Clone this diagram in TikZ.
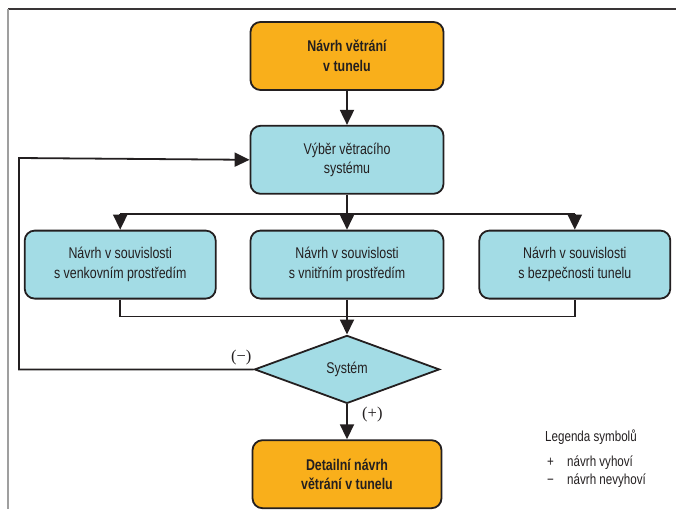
\documentclass[tikz,border=0pt]{standalone}
\usepackage{fontspec}
\setmainfont[FakeStretch=0.8]{Liberation Sans}
\newfontfamily\parenfont{Liberation Serif}
\usepackage{xcolor}
\usetikzlibrary{positioning, arrows.meta, shapes.geometric}

\definecolor{vorange}{HTML}{F9AF1B}
\definecolor{vcyan}{HTML}{A3DCE5}
\definecolor{vline}{HTML}{231F20}

\begin{document}
\begin{tikzpicture}[
    x=1pt, y=-1pt,
    box/.style={draw=vline, line width=1.8pt, rounded corners=10pt, align=center,
                minimum width=193pt, minimum height=68pt, inner sep=2pt,
                font=\fontsize{15.5}{19.5}\selectfont, text=vline},
    mainbox/.style={box, fill=vorange, font=\bfseries\fontsize{15.5}{19.5}\selectfont},
    stepbox/.style={box, fill=vcyan},
    decide/.style={diamond, draw=vline, line width=1.8pt, fill=vcyan, inner sep=0pt,
                   minimum width=185pt, minimum height=68pt,
                   font=\fontsize{15.5}{18}\selectfont, text=vline},
    arr/.style={-{Triangle[length=15pt,width=14pt]}, line width=1.8pt, draw=vline},
    ln/.style={line width=1.8pt, draw=vline},
    lbl/.style={inner sep=1pt, font=\parenfont\fontsize{16.5}{18}\selectfont, text=vline},
    leg/.style={inner sep=0pt, anchor=base west, font=\fontsize{14.5}{17}\selectfont, text=vline}
  ]
  \useasboundingbox (0,0) rectangle (676,509);

  % frame
  \draw[line width=1.8pt, draw=vline!90] (8,9) -- (676,9);
  \draw[line width=1.5pt, draw=gray!75] (8,9) -- (8,509);

  \node[mainbox] (navrh) at (347,56) {Návrh větrání\\v tunelu};
  \node[stepbox, below=34pt of navrh] (vyber) {Výběr větracího\\systému};
  \node[stepbox, below=35pt of vyber] (vnit) {Návrh v souvislosti\\s vnitřním prostředím};
  \node[stepbox, left=33pt of vnit, minimum width=191pt] (venk) {Návrh v souvislosti\\s venkovním prostředím};
  \node[stepbox, right=34pt of vnit, minimum width=191pt] (bezp) {Návrh v souvislosti\\s bezpečnosti tunelu};
  \node[decide, below=35pt of vnit] (sys) {Systém};
  \node[mainbox, below=35pt of sys, minimum width=189pt] (detail) {Detailní návrh\\větrání v tunelu};

  \coordinate[below=19pt of vyber.south] (split);
  \coordinate[below=17pt of vnit.south] (join);
  \coordinate (loop) at (19,158);

  \draw[arr] (navrh) -- (vyber);
  \draw[ln] (vyber.south) -- (split);
  \draw[ln] (venk.north |- split) -- (bezp.north |- split);
  \foreach \b in {venk, vnit, bezp}
    \draw[arr] (\b.north |- split) -- (\b.north);

  \draw[ln] (venk.south) |- (join) -| (bezp.south);
  \draw[ln] (vnit.south) -- (join);
  \draw[arr] (join) -- (sys.north);

  \draw[arr] (sys.west) -| (loop) -- (vyber.west);
  \draw[arr] (sys.south) -- (detail.north);

  \node[lbl, above left=3pt and 1pt of sys.west] (minus) {(−)};
  \node[lbl, below right=2pt and 14pt of sys.south] (plus) {(+)};

  % legend
  \node[leg] (legtit) at (545,441) {Legenda symbolů};
  \node[leg] (legp) at (547,466) {+};
  \node[leg] (legptx) at (567,466) {návrh vyhoví};
  \node[leg] (legm) at (547,484) {−};
  \node[leg] (legmtx) at (567,484) {návrh nevyhoví};
\end{tikzpicture}
\end{document}
